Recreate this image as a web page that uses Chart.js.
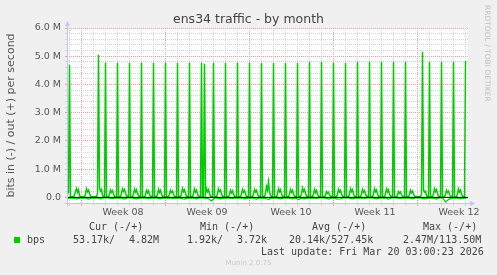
<!DOCTYPE html>
<html lang="en">
<head>
  <meta charset="UTF-8" />
  <title>ens34 traffic - by month</title>
  <script src="https://cdn.jsdelivr.net/npm/chart.js"></script>
  <style>
    html, body { margin: 0; padding: 0; background: #f0f0f0; }
    #wrap { position: relative; width: 497px; height: 275px; overflow: hidden; font-family: 'DejaVu Sans', sans-serif; color: #555; }
    canvas { position: absolute; left: 0; top: 0; }
    .t { position: absolute; white-space: pre; line-height: 12px; }
    .mono { font-family: 'DejaVu Sans Mono', monospace; font-size: 10px; color: #444; }
    #title { left: 0; width: 497px; top: 11px; text-align: center; font-size: 12.5px; color: #444; line-height: 16px; }
    #rrd { left: 483px; top: 5px; writing-mode: vertical-rl; font-size: 7.5px; color: #c0c0c0; line-height: 9px; }
    #munin { left: 0; width: 497px; top: 258px; text-align: center; font-size: 7px; color: #c8c8c8; line-height: 10px; }
    #swatch { position: absolute; left: 14px; top: 237px; width: 6px; height: 6px; background: #00cc00; }
  </style>
</head>
<body>
<div id="wrap">
  <canvas id="graf" width="497" height="275"></canvas>
  <div class="t" id="title">ens34 traffic - by month</div>
  <div class="t" id="rrd">RRDTOOL / TOBI OETIKER</div>

  <div class="t mono" style="left:89px;top:221px">Cur (-/+)</div>
  <div class="t mono" style="left:200px;top:221px">Min (-/+)</div>
  <div class="t mono" style="left:312px;top:221px">Avg (-/+)</div>
  <div class="t mono" style="left:423px;top:221px">Max (-/+)</div>

  <div id="swatch"></div>
  <div class="t mono" style="left:27px;top:234px">bps</div>
  <div class="t mono" style="left:73px;top:234px">53.17k/</div>
  <div class="t mono" style="left:129px;top:234px">4.82M</div>
  <div class="t mono" style="left:187px;top:234px">1.92k/</div>
  <div class="t mono" style="left:237px;top:234px">3.72k</div>
  <div class="t mono" style="left:289px;top:234px">20.14k/527.45k</div>
  <div class="t mono" style="left:403px;top:234px">2.47M/113.50M</div>

  <div class="t mono" style="left:261px;top:246px">Last update: Fri Mar 20 03:00:23 2026</div>
  <div class="t" id="munin">Munin 2.0.75</div>
</div>

<script>
  // time axis in days, 0 = Mon 16 Feb 2026 00:00
  const X_MIN = -14 / 12;
  const X_MAX = 32.25;
  const FIRST_DAY = -2;

  const weekStarts = [0, 7, 14, 21, 28];
  const weekMids = [3.5, 10.5, 17.5, 24.5, 31.5];
  const weekLabels = ['Week 08', 'Week 09', 'Week 10', 'Week 11', 'Week 12'];

  // out (+), Mbit/s, one row per day, 2h averages
  const outDays = [
    [0.02, 0.02, 0.02, 0.03, 0.10, 0.24, 0.16, 0.22, 0.10, 0.04, 0.12, 0.18],
    [4.69, 0.04, 0.02, 0.02, 0.03, 0.08, 0.22, 0.31, 0.18, 0.27, 0.06, 0.03],
    [0.03, 0.02, 0.02, 0.03, 0.12, 0.30, 0.20, 0.26, 0.14, 0.05, 0.03, 0.02],
    [0.02, 0.02, 0.03, 0.03, 0.15, 5.05, 0.33, 0.22, 0.28, 0.08, 0.03, 0.02],
    [4.78, 0.03, 0.02, 0.03, 0.10, 0.26, 0.18, 0.24, 0.12, 0.04, 0.02, 0.02],
    [4.77, 0.03, 0.02, 0.02, 0.14, 0.30, 0.21, 0.28, 0.15, 0.05, 0.03, 0.02],
    [4.77, 0.02, 0.02, 0.03, 0.12, 0.29, 0.19, 0.27, 0.13, 0.06, 0.02, 0.02],
    [4.77, 0.03, 0.02, 0.02, 0.09, 0.25, 0.16, 0.23, 0.10, 0.04, 0.03, 0.02],
    [4.77, 0.02, 0.03, 0.02, 0.10, 0.28, 0.18, 0.25, 0.12, 0.05, 0.02, 0.02],
    [4.77, 0.03, 0.02, 0.03, 0.11, 0.25, 0.17, 0.22, 0.11, 0.04, 0.03, 0.02],
    [4.77, 0.02, 0.02, 0.02, 0.13, 0.31, 0.20, 0.27, 0.14, 0.05, 0.02, 0.03],
    [4.77, 0.03, 0.02, 0.03, 0.12, 0.30, 0.19, 0.26, 0.12, 0.04, 0.03, 0.02],
    [4.77, 0.03, 0.02, 4.73, 0.14, 0.31, 0.20, 0.27, 0.13, 0.05, 0.02, 0.02],
    [4.77, 0.02, 0.03, 0.02, 0.12, 0.30, 0.21, 0.26, 0.12, 0.04, 0.03, 0.02],
    [4.77, 0.03, 0.02, 0.02, 0.10, 0.25, 0.16, 0.23, 0.11, 0.05, 0.02, 0.02],
    [4.77, 0.02, 0.02, 0.03, 0.11, 0.28, 0.18, 0.24, 0.12, 0.04, 0.03, 0.02],
    [4.77, 0.03, 0.02, 0.02, 0.12, 0.28, 0.19, 0.25, 0.13, 0.05, 0.02, 0.02],
    [4.76, 0.02, 0.03, 0.03, 0.15, 0.38, 0.25, 0.55, 0.20, 0.07, 0.03, 0.02],
    [4.76, 0.03, 0.02, 0.02, 0.12, 0.30, 0.20, 0.27, 0.13, 0.05, 0.02, 0.02],
    [4.76, 0.02, 0.02, 0.03, 0.11, 0.28, 0.18, 0.25, 0.12, 0.04, 0.03, 0.02],
    [4.76, 0.03, 0.02, 0.02, 0.13, 0.33, 0.21, 0.28, 0.14, 0.05, 0.02, 0.03],
    [4.80, 0.02, 0.03, 0.02, 0.11, 0.28, 0.17, 0.24, 0.12, 0.04, 0.03, 0.02],
    [4.80, 0.03, 0.02, 0.02, 0.08, 0.20, 0.14, 0.18, 0.09, 0.04, 0.02, 0.02],
    [4.76, 0.02, 0.02, 0.03, 0.11, 0.28, 0.19, 0.25, 0.12, 0.05, 0.03, 0.02],
    [4.76, 0.03, 0.02, 0.02, 0.12, 0.30, 0.20, 0.27, 0.13, 0.04, 0.02, 0.02],
    [4.80, 0.02, 0.03, 0.02, 0.11, 0.28, 0.18, 0.24, 0.12, 0.05, 0.03, 0.02],
    [4.80, 0.03, 0.02, 0.03, 0.12, 0.30, 0.20, 0.26, 0.13, 0.04, 0.02, 0.02],
    [4.80, 0.02, 0.02, 0.02, 0.12, 0.30, 0.19, 0.27, 0.12, 0.05, 0.03, 0.02],
    [4.80, 0.03, 0.02, 0.02, 0.08, 0.20, 0.14, 0.19, 0.10, 0.04, 0.02, 0.02],
    [4.80, 0.02, 0.03, 0.03, 0.10, 0.25, 0.16, 0.22, 0.11, 0.05, 0.03, 0.02],
    [0.03, 0.02, 0.02, 0.02, 0.12, 5.16, 0.25, 0.18, 0.22, 0.06, 0.03, 0.02],
    [4.80, 0.03, 0.02, 0.02, 0.12, 0.30, 0.20, 0.27, 0.13, 0.05, 0.02, 0.02],
    [4.80, 0.02, 0.02, 0.03, 0.10, 0.25, 0.17, 0.22, 0.11, 0.04, 0.03, 0.02],
    [4.80, 0.03, 0.02, 0.02, 0.12, 0.30, 0.19, 0.26, 0.12, 0.05, 0.02, 0.02],
    [4.83]
  ];

  // in (-), Mbit/s, one row per day, 6h averages
  const inDays = [
    [-0.03, -0.03, -0.04, -0.03], [-0.03, -0.02, -0.05, -0.03], [-0.02, -0.03, -0.06, -0.03],
    [-0.03, -0.02, -0.05, -0.02], [-0.02, -0.03, -0.04, -0.03], [-0.03, -0.02, -0.06, -0.02],
    [-0.02, -0.03, -0.05, -0.03], [-0.03, -0.02, -0.04, -0.03], [-0.02, -0.03, -0.05, -0.02],
    [-0.03, -0.02, -0.04, -0.03], [-0.02, -0.04, -0.06, -0.03], [-0.03, -0.02, -0.05, -0.02],
    [-0.02, -0.03, -0.05, -0.13], [-0.03, -0.02, -0.05, -0.03], [-0.02, -0.03, -0.04, -0.02],
    [-0.03, -0.02, -0.05, -0.03], [-0.02, -0.03, -0.06, -0.02], [-0.03, -0.04, -0.07, -0.03],
    [-0.02, -0.03, -0.05, -0.03], [-0.03, -0.02, -0.05, -0.02], [-0.08, -0.03, -0.05, -0.03],
    [-0.03, -0.02, -0.04, -0.02], [-0.02, -0.03, -0.06, -0.03], [-0.03, -0.06, -0.05, -0.02],
    [-0.02, -0.03, -0.05, -0.03], [-0.03, -0.02, -0.04, -0.02], [-0.02, -0.03, -0.05, -0.03],
    [-0.03, -0.02, -0.06, -0.02], [-0.02, -0.03, -0.04, -0.03], [-0.03, -0.02, -0.05, -0.02],
    [-0.02, -0.03, -0.05, -0.03], [-0.03, -0.02, -0.06, -0.02], [-0.02, -0.16, -0.08, -0.03],
    [-0.03, -0.02, -0.05, -0.02], [-0.05]
  ];

  const GREEN = '#00cc00';
  const MAJOR = '#e8a0a0';
  const MINOR = '#d2d2d2';
  const AXIS = '#c4c4f4';
  const NONE = 'rgba(0,0,0,0)';

  const outPoints = [];
  outDays.forEach((vals, i) => vals.forEach((v, k) => outPoints.push({ x: FIRST_DAY + i + (k + 0.5) / 12, y: v })));
  const inPoints = [];
  inDays.forEach((vals, i) => vals.forEach((v, k) => inPoints.push({ x: FIRST_DAY + i + (k + 0.5) / 4, y: v })));

  const frame = {
    id: 'frame',
    beforeDraw(chart) {
      const { ctx, chartArea: a } = chart;
      ctx.save();
      ctx.fillStyle = '#fff';
      ctx.fillRect(a.left, a.top, a.right - a.left, a.bottom - a.top);
      ctx.restore();
    },
    afterDraw(chart) {
      const { ctx, chartArea: a } = chart;
      const x0 = Math.round(a.left) + 0.5, y0 = Math.round(a.bottom) + 0.5;
      ctx.save();
      ctx.strokeStyle = AXIS;
      ctx.fillStyle = AXIS;
      ctx.lineWidth = 1;
      ctx.beginPath();
      ctx.moveTo(x0, y0 + 3); ctx.lineTo(x0, a.top - 3);
      ctx.moveTo(x0 - 3, y0); ctx.lineTo(a.right + 3, y0);
      ctx.stroke();
      ctx.beginPath();
      ctx.moveTo(x0 - 2.5, a.top - 2); ctx.lineTo(x0 + 2.5, a.top - 2); ctx.lineTo(x0, a.top - 7);
      ctx.closePath(); ctx.fill();
      ctx.beginPath();
      ctx.moveTo(a.right + 2, y0 - 2.5); ctx.lineTo(a.right + 2, y0 + 2.5); ctx.lineTo(a.right + 7, y0);
      ctx.closePath(); ctx.fill();
      ctx.restore();
    }
  };

  Chart.defaults.font.family = "'DejaVu Sans', sans-serif";
  Chart.defaults.color = '#555';

  new Chart(document.getElementById('graf'), {
    type: 'line',
    data: {
      datasets: [
        { label: 'out', data: outPoints, borderColor: GREEN, borderWidth: 1.5, pointRadius: 0, tension: 0, order: 1, clip: 0 },
        { label: 'in', data: inPoints, borderColor: GREEN, borderWidth: 1.2, pointRadius: 0, tension: 0, order: 1, clip: 0 },
        { label: 'zero', data: [{ x: X_MIN, y: 0 }, { x: X_MAX, y: 0 }], borderColor: '#000', borderWidth: 1, pointRadius: 0, order: 0, clip: 0 }
      ]
    },
    options: {
      responsive: false,
      animation: false,
      events: [],
      layout: { padding: { top: 28, right: 29, bottom: 47, left: 0 } },
      plugins: { legend: { display: false }, title: { display: false }, tooltip: { enabled: false } },
      scales: {
        x: {
          type: 'linear', min: X_MIN, max: X_MAX,
          afterFit: s => { s.height = 25; },
          afterBuildTicks: s => {
            const t = [];
            for (let d = -1; d <= 32; d++) {
              t.push({ value: d });
              if (weekMids.includes(d + 0.5)) t.push({ value: d + 0.5 });
            }
            s.ticks = t;
          },
          ticks: {
            autoSkip: false, maxRotation: 0, minRotation: 0, padding: 1,
            font: { size: 9.5 }, color: '#555',
            callback: v => { const i = weekMids.indexOf(v); return i < 0 ? '' : weekLabels[i]; }
          },
          grid: {
            drawTicks: true, tickLength: 3,
            color: c => Number.isInteger(c.tick.value) ? (weekStarts.includes(c.tick.value) ? MAJOR : MINOR) : NONE,
            tickColor: c => Number.isInteger(c.tick.value) ? (weekStarts.includes(c.tick.value) ? MAJOR : MINOR) : NONE
          },
          border: { display: false, dash: [1, 1] }
        },
        y: {
          type: 'linear', min: -0.2, max: 6.0,
          afterFit: s => { s.width = 67; },
          afterBuildTicks: s => {
            const t = [];
            for (let i = -1; i <= 30; i++) t.push({ value: i / 5 });
            s.ticks = t;
          },
          ticks: {
            autoSkip: false, padding: 4, font: { size: 9.5 }, color: '#555',
            callback: v => {
              const i = Math.round(v * 5);
              if (i < 0 || i % 5) return '';
              return i === 0 ? '0.0' : (i / 5).toFixed(1) + ' M';
            }
          },
          grid: {
            drawTicks: true, tickLength: 2,
            color: c => { const i = Math.round(c.tick.value * 5); return i <= 0 ? NONE : (i % 5 ? MINOR : MAJOR); },
            tickColor: c => { const i = Math.round(c.tick.value * 5); return i < 0 ? NONE : (i % 5 ? MINOR : MAJOR); }
          },
          border: { display: false, dash: [1, 1] },
          title: { display: true, text: 'bits in (-) / out (+) per second', font: { size: 11 }, color: '#555', padding: { top: 5, bottom: 0 } }
        }
      }
    },
    plugins: [frame]
  });
</script>
</body>
</html>
